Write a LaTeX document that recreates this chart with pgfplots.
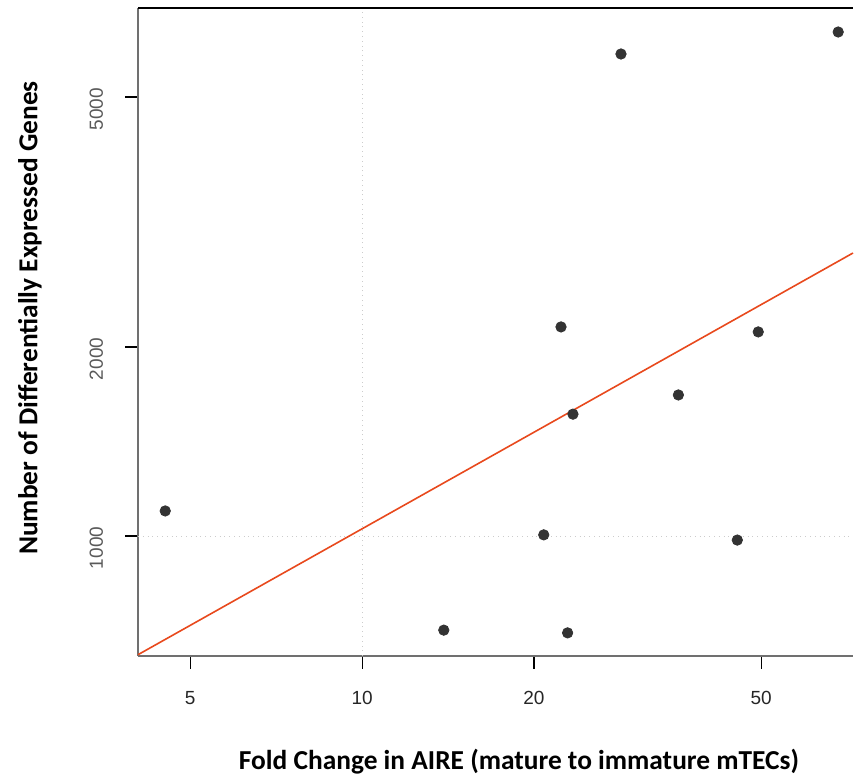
\documentclass[border=0pt]{standalone}
\usepackage{pgfplots}
\pgfplotsset{compat=1.18}
\usepackage{fontspec}
\setmainfont{Liberation Sans}
\newfontfamily\calibri{Carlito}
\definecolor{pt}{HTML}{333333}
\definecolor{fit}{HTML}{E8491D}
\definecolor{ax}{HTML}{707070}
\begin{document}
\begin{tikzpicture}
\begin{axis}[
  scale only axis,
  width=357.5pt, height=324pt,
  xmode=log, ymode=log,
  xmin=4.05, xmax=72.4, ymin=644, ymax=6930,
  enlargelimits=false,
  axis lines=left,
  axis line style={-, ax, line width=0.9pt},
  xtick={5,10,20,50}, xticklabels={5,10,20,50},
  ytick={1000,2000,5000}, yticklabels={1000,2000,5000},
  minor tick style={draw=none},
  tick align=outside,
  major tick length=6.5pt,
  tick style={black, line width=0.6pt},
  /pgf/number format/assume math mode=true,
  xticklabel style={font=\fontsize{9.5}{11}\selectfont, text=black!85, yshift=-7.5pt},
  yticklabel style={font=\fontsize{9.5}{11}\selectfont, text=black!65, rotate=90, anchor=south, xshift=-6pt, yshift=7.5pt},
  clip=false,
]
\draw[dotted, black!20] (axis cs:10,644) -- (axis cs:10,6930);
\draw[dotted, black!20] (axis cs:4.05,1000) -- (axis cs:72.4,1000);
\draw[black, line width=0.9pt] (rel axis cs:0,1) -- (rel axis cs:1,1);
\addplot[fit, line width=0.8pt] coordinates {(4.05,647) (72.4,2822)};
\addplot[only marks, mark=*, mark size=2.6pt, color=pt, mark options={fill=pt, draw=pt}] coordinates {
 (4.52,1096) (13.9,708) (20.8,1004) (22.3,2152) (22.9,701) (23.4,1563)
 (28.4,5854) (35.8,1677) (45.4,985) (49.4,2113) (68.2,6346)
};
\path (rel axis cs:0,0) ++(-69pt,-60.5pt) coordinate (bl)
  (rel axis cs:1,1) ++(0.5pt,4pt) coordinate (tr);
\path[use as bounding box] (bl) rectangle (tr);
\end{axis}
\node[font=\calibri\bfseries\fontsize{13.7}{16}\selectfont, rotate=90, text=black] at (-54pt, 169pt) {Number of Differentially Expressed Genes};
\node[font=\calibri\bfseries\fontsize{13.7}{16}\selectfont, text=black] at (190.5pt, -53pt) {Fold Change in AIRE (mature to immature mTECs)};
\end{tikzpicture}
\end{document}
